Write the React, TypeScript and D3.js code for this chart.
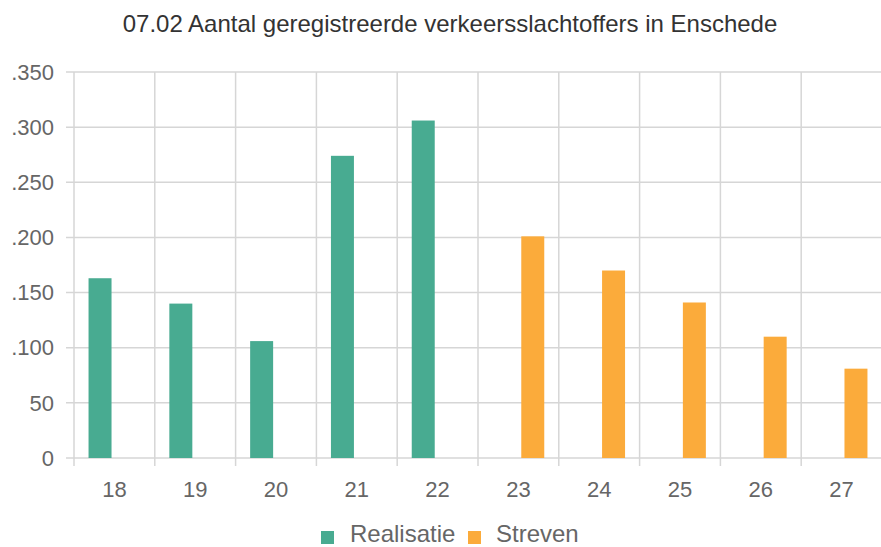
import React from "react";
import * as d3 from "d3";

const title = "07.02 Aantal geregistreerde verkeersslachtoffers in Enschede";
const categories = ["18", "19", "20", "21", "22", "23", "24", "25", "26", "27"];
const realisatie: (number | null)[] = [163, 140, 106, 274, 306, null, null, null, null, null];
const streven: (number | null)[] = [null, null, null, null, null, 201, 170, 141, 110, 81];
const yTicks = [0, 50, 100, 150, 200, 250, 300, 350];
const yTickLabels = ["0", "50", ".100", ".150", ".200", ".250", ".300", ".350"];
const seriesNames = ["Realisatie", "Streven"];
const colors = ["#48ab91", "#fbab3b"];

const W = 881;
const H = 547;
const left = 74;
const right = 882;
const top = 72;
const bottom = 458;

export default function App() {
  const x = d3.scaleBand<string>().domain(categories).range([left, right]).padding(0);
  const bw = x.bandwidth();
  const x1 = d3
    .scaleBand<string>()
    .domain(seriesNames)
    .range([bw * 0.18, bw * 0.82])
    .paddingInner(0.2);
  const y = d3.scaleLinear().domain([0, 350]).range([bottom, top]);
  const series = [realisatie, streven];
  const gridColor = "#d6d6d6";
  const font = "Liberation Sans, Arial, sans-serif";

  const vLines = categories.map((c) => x(c)!).concat([right]);

  return (
    <svg width={W} height={H} style={{ position: "absolute", left: 0, top: 0 }}>
      <rect width={W} height={H} fill="#fff" />
      <text x={450} y={32} textAnchor="middle" fontFamily={font} fontSize={24} fill="#333">
        {title}
      </text>
      {yTicks.map((t) => (
        <line key={"h" + t} x1={left - 8} x2={right} y1={y(t)} y2={y(t)} stroke={gridColor} strokeWidth={1.5} />
      ))}
      {vLines.map((v, i) => (
        <line key={"v" + i} x1={v} x2={v} y1={top} y2={bottom + 8} stroke={gridColor} strokeWidth={1.5} />
      ))}
      {yTicks.map((t, i) => (
        <text
          key={"yl" + t}
          x={54}
          y={y(t)}
          dy="0.35em"
          textAnchor="end"
          fontFamily={font}
          fontSize={22}
          fill="#666"
        >
          {yTickLabels[i]}
        </text>
      ))}
      {categories.map((c) => (
        <text
          key={"xl" + c}
          x={x(c)! + bw / 2}
          y={497}
          textAnchor="middle"
          fontFamily={font}
          fontSize={22}
          fill="#666"
        >
          {c}
        </text>
      ))}
      {series.map((vals, si) =>
        vals.map((v, ci) =>
          v == null ? null : (
            <rect
              key={si + "-" + ci}
              x={x(categories[ci])! + x1(seriesNames[si])!}
              y={y(v)}
              width={x1.bandwidth()}
              height={y(0) - y(v)}
              fill={colors[si]}
            />
          )
        )
      )}
      <g fontFamily={font} fontSize={24} fill="#666">
        <rect x={321} y={531} width={13} height={13} fill={colors[0]} />
        <text x={350} y={542}>{seriesNames[0]}</text>
        <rect x={468} y={531} width={13} height={13} fill={colors[1]} />
        <text x={496} y={542}>{seriesNames[1]}</text>
      </g>
    </svg>
  );
}
